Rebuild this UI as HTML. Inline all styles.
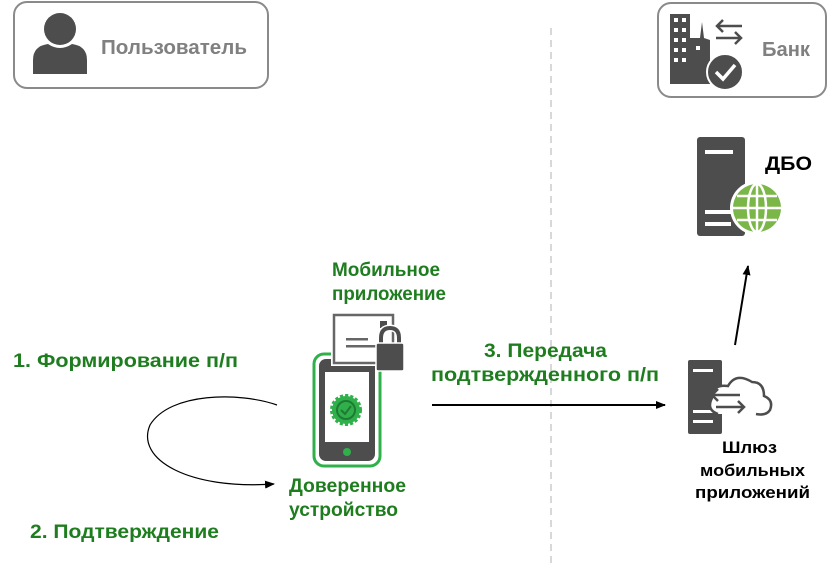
<!DOCTYPE html>
<html><head><meta charset="utf-8"><style>
body{margin:0;background:#fff;}
svg{display:block;font-family:"Liberation Sans",Arial,sans-serif;font-weight:bold;}
</style></head><body>
<svg width="834" height="565" viewBox="0 0 834 565">
<defs><marker id="ah" markerWidth="10" markerHeight="8" refX="9" refY="4" orient="auto" markerUnits="userSpaceOnUse"><path d="M0,0 L10,4 L0,8 z" fill="#000"/></marker></defs>
<line x1="551" y1="28" x2="551" y2="565" stroke="#ccc" stroke-width="1.5" stroke-dasharray="7,5"/>
<!-- User box -->
<rect x="14" y="2" width="254" height="86" rx="13" fill="#fff" stroke="#8a8a8a" stroke-width="2"/>
<circle cx="60" cy="29" r="16" fill="#4d4d4d"/>
<path d="M33,74 L33,60 Q33,46 48,44 Q60,52 72,44 Q87,46 87,60 L87,74 z" fill="#4d4d4d"/>
<text x="101" y="54" font-size="20" fill="#808080" textLength="146" lengthAdjust="spacingAndGlyphs">Пользователь</text>
<!-- Bank box -->
<rect x="658" y="3" width="168" height="94" rx="13" fill="#fff" stroke="#8a8a8a" stroke-width="2"/>
<rect x="670" y="14" width="20" height="70" fill="#4d4d4d"/>
<path d="M690,84 L690,38 L700,38 L702,22 L704,38 L710,40 L710,84z" fill="#4d4d4d"/>
<g fill="#fff"><rect x="674" y="18" width="4" height="4"/><rect x="682" y="18" width="4" height="4"/><rect x="674" y="28" width="4" height="4"/><rect x="682" y="28" width="4" height="4"/><rect x="674" y="38" width="4" height="4"/><rect x="682" y="38" width="4" height="4"/><rect x="674" y="48" width="4" height="4"/><rect x="682" y="48" width="4" height="4"/><rect x="674" y="58" width="4" height="4"/><rect x="682" y="58" width="4" height="4"/><rect x="696" y="46" width="4" height="4"/></g>
<circle cx="725" cy="72" r="18" fill="#4d4d4d" stroke="#fff" stroke-width="2"/>
<path d="M716,72 L723,79 L735,65" stroke="#fff" stroke-width="3.5" fill="none"/>
<path d="M742,26 L718,26 M723,20 L717,26 L723,32 M716,38 L740,38 M735,32 L741,38 L735,44" stroke="#4d4d4d" stroke-width="2.5" fill="none"/>
<text x="762" y="56" font-size="20" fill="#808080" textLength="48" lengthAdjust="spacingAndGlyphs">Банк</text>
<!-- DBO -->
<rect x="697" y="137" width="48" height="99" rx="3" fill="#4d4d4d"/>
<rect x="705" y="150" width="28" height="4" fill="#fff"/>
<rect x="705" y="210" width="26" height="4" fill="#fff"/><rect x="705" y="222" width="26" height="4" fill="#fff"/>
<circle cx="757" cy="208" r="27" fill="#fff"/>
<circle cx="757" cy="208" r="24" fill="#7ab648"/>
<g stroke="#fff" stroke-width="2.5" fill="none"><ellipse cx="757" cy="208" rx="9" ry="24"/><line x1="757" y1="184" x2="757" y2="232"/><line x1="733" y1="208" x2="781" y2="208"/><line x1="737" y1="196" x2="777" y2="196"/><line x1="737" y1="220" x2="777" y2="220"/></g>
<text x="765" y="170" font-size="19" fill="#000" textLength="47" lengthAdjust="spacingAndGlyphs">ДБО</text>
<!-- arrow gateway->DBO -->
<line x1="735" y1="345" x2="748" y2="266" stroke="#000" stroke-width="2" marker-end="url(#ah)"/>
<!-- Gateway -->
<rect x="688" y="360" width="34" height="74" rx="2" fill="#4d4d4d"/>
<rect x="693" y="369" width="20" height="3" fill="#fff"/><rect x="693" y="410" width="20" height="3" fill="#fff"/><rect x="693" y="420" width="20" height="3" fill="#fff"/>
<path d="M718,414 Q706,410 712,398 Q712,384 728,386 Q736,372 752,382 Q764,382 764,396 Q774,400 770,410 Q766,416 756,414" fill="#fff" stroke="#4d4d4d" stroke-width="2.5"/>
<path d="M740,395 L712,395 M718,389 L712,395 L718,401 M716,407 L744,407 M738,401 L744,407 L738,413" stroke="#4d4d4d" stroke-width="2.5" fill="none"/>
<g font-size="17" fill="#000">
<text x="722" y="453" textLength="55" lengthAdjust="spacingAndGlyphs">Шлюз</text>
<text x="700" y="476" textLength="105" lengthAdjust="spacingAndGlyphs">мобильных</text>
<text x="695" y="498" textLength="115" lengthAdjust="spacingAndGlyphs">приложений</text></g>
<!-- Phone -->
<rect x="314" y="354" width="66" height="112" rx="10" fill="#fff" stroke="#2fb04a" stroke-width="3"/>
<rect x="319" y="359" width="56" height="102" rx="7" fill="#4d4d4d"/>
<rect x="325" y="372" width="44" height="70" fill="#fff"/>
<circle cx="347" cy="452" r="4" fill="#2fb04a"/>
<circle cx="346" cy="410" r="14" fill="#2fb04a" stroke="#2fb04a" stroke-width="4" stroke-dasharray="3,2"/>
<circle cx="346" cy="410" r="9" fill="none" stroke="#1f7a33" stroke-width="2"/>
<path d="M341,410 L345,414 L351,406" stroke="#1f7a33" stroke-width="2" fill="none"/>
<!-- letter -->
<rect x="331" y="312" width="64" height="54" fill="#fff"/>
<rect x="334" y="315" width="59" height="48" fill="#fff" stroke="#666" stroke-width="2.5"/>
<rect x="380" y="321" width="7" height="7" fill="#4d4d4d"/>
<rect x="346" y="338" width="22" height="2.5" fill="#666"/><rect x="346" y="345" width="30" height="2.5" fill="#666"/>
<path d="M381,345 L381,338 Q381,328 390,328 Q399,328 399,338 L399,345" stroke="#fff" stroke-width="7" fill="none"/>
<path d="M381,345 L381,338 Q381,328 390,328 Q399,328 399,338 L399,345" stroke="#4d4d4d" stroke-width="4" fill="none"/>
<rect x="376" y="343" width="28" height="28" rx="2" fill="#4d4d4d" stroke="#fff" stroke-width="1.5"/>
<!-- green labels -->
<g font-size="19" fill="#1e7d1e">
<text x="332" y="276" textLength="108" lengthAdjust="spacingAndGlyphs">Мобильное</text>
<text x="332" y="300" textLength="114" lengthAdjust="spacingAndGlyphs">приложение</text>
<text x="13" y="367" textLength="225" lengthAdjust="spacingAndGlyphs">1. Формирование п/п</text>
<text x="30" y="538" textLength="189" lengthAdjust="spacingAndGlyphs">2. Подтверждение</text>
<text x="289" y="492" textLength="117" lengthAdjust="spacingAndGlyphs">Доверенное</text>
<text x="289" y="516" textLength="109" lengthAdjust="spacingAndGlyphs">устройство</text>
<text x="484" y="357" textLength="123" lengthAdjust="spacingAndGlyphs">3. Передача</text>
<text x="431" y="381" textLength="228" lengthAdjust="spacingAndGlyphs">подтвержденного п/п</text>
</g>
<line x1="432" y1="405" x2="665" y2="405" stroke="#000" stroke-width="2" marker-end="url(#ah)"/>
<path d="M277,405 C240,392 170,392 150,425 C135,460 190,490 274,484" fill="none" stroke="#000" stroke-width="1.2" marker-end="url(#ah)"/>
</svg>
</body></html>
